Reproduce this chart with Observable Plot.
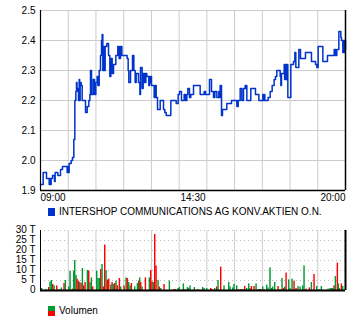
<!DOCTYPE html>
<html>
<head>
<meta charset="utf-8">
<script src="https://cdn.jsdelivr.net/npm/d3@7"></script>
<script src="https://cdn.jsdelivr.net/npm/@observablehq/plot@0.6"></script>
<style>
  html, body { margin: 0; padding: 0; background: #fff; }
  body { width: 360px; height: 330px; position: relative; overflow: hidden; font-family: "Liberation Sans", Arial, sans-serif; }
  #price, #volume { position: absolute; left: 0; }
  #price { top: 0; }
  #volume { top: 222px; }
  .legend { position: absolute; left: 48px; font-size: 10px; line-height: 12px; color: #000; display: flex; align-items: center; white-space: nowrap; }
  .legend .sw { width: 7px; height: 8px; margin-right: 4px; }
</style>
</head>
<body>
<div id="price"></div>
<div class="legend" style="top:206px"><div class="sw" style="background:#0033cc"></div><span>INTERSHOP COMMUNICATIONS AG KONV.AKTIEN O.N.</span></div>
<div id="volume"></div>
<div class="legend" style="top:305px"><div class="sw" style="height:10px;background:linear-gradient(#009933 50%, #ff0000 50%)"></div><span>Volumen</span></div>
<script>
// ---- data ----
// minutes after 09:00
const priceTime = [0,5.8,13,18.8,20,21.6,23,26,30.3,31.7,37.5,43.3,47.6,57.7,58.4,59.1,62,66.4,69.2,72.1,74.3,76.5,77.9,79,80.8,82.2,83.7,84.7,85.8,88,90.2,97.4,101,104.6,106.8,108.2,110.4,114,116.9,119.7,122.6,124.1,127,129.8,132,133.4,134.9,136.3,138.5,139.9,143.5,147.2,150,152.2,155.1,158,163,167.3,170.2,173.1,176,187.5,189.7,191.1,194.8,199.1,202,204.8,207,212,215,216.4,220,222.2,223.5,225,226.5,228,230.1,234.4,236,237.3,238.5,240.2,246,248.9,250.3,253.2,259,266.2,269.1,272,282,293.6,297.9,300.8,305.1,310.9,313.8,316.7,318.8,322.4,325.3,331.1,345.5,354.2,357.1,365.7,370,374.4,377.3,381.6,385.9,387,388.8,391.7,393.8,403.2,413.3,424.9,427.8,432.1,435.7,439.3,442.9,444.5,445.8,446.5,455.1,465.2,472.5,481.1,482.5,484,485.4,492.6,497,501.3,505.6,508.5,511.4,518.6,520.1,521.5,527.3,528.2,529,530.2,533,535.2,541.7,547.5,550.4,552.5,559,562.6,573.4,586.4,595.1,598,600.8,611,621,635.5,638.4,641.2,645.6,649.9,651.3,654.2,655.5,657.1,658,660];
const priceValue = [1.92,1.96,1.94,1.92,1.94,1.92,1.94,1.95,1.93,1.96,1.95,1.97,1.98,1.96,1.98,1.96,1.99,2.00,2.01,2.07,2.20,2.23,2.26,2.24,2.23,2.20,2.27,2.20,2.26,2.25,2.20,2.16,2.18,2.20,2.22,2.30,2.22,2.27,2.22,2.26,2.28,2.25,2.30,2.35,2.40,2.42,2.30,2.38,2.30,2.38,2.39,2.35,2.28,2.34,2.29,2.32,2.35,2.38,2.34,2.38,2.35,2.34,2.30,2.26,2.30,2.35,2.30,2.26,2.29,2.26,2.22,2.31,2.24,2.29,2.26,2.29,2.26,2.29,2.28,2.25,2.28,2.26,2.28,2.25,2.21,2.25,2.21,2.17,2.20,2.17,2.16,2.15,2.20,2.19,2.22,2.23,2.20,2.22,2.20,2.22,2.24,2.21,2.22,2.25,2.22,2.23,2.22,2.27,2.23,2.21,2.23,2.21,2.23,2.21,2.25,2.15,2.17,2.19,2.20,2.18,2.20,2.24,2.20,2.24,2.25,2.24,2.25,2.20,2.24,2.22,2.20,2.22,2.20,2.22,2.20,2.21,2.23,2.25,2.27,2.28,2.30,2.28,2.25,2.29,2.32,2.27,2.32,2.27,2.32,2.21,2.32,2.33,2.36,2.31,2.37,2.34,2.36,2.33,2.32,2.31,2.38,2.33,2.35,2.37,2.35,2.37,2.43,2.41,2.40,2.36,2.40,2.36,2.40,2.37,2.37];

const volTime = [2.2,10.8,17.3,20.2,23.1,26,28.9,34.6,39.7,44.7,50.5,53.4,60.6,63.5,68.5,71.4,73.6,76.5,78.6,81.5,84.4,87.3,90.2,93,95.9,101,103.9,106.8,109.6,112.5,121.2,124.1,127,129.8,132.7,135.6,138.5,141.4,144.3,147.2,151.5,154.4,157.2,160.1,163,165.9,170.2,173.1,180.3,184.7,187.5,190.4,193.3,196.2,203.4,209.2,212.1,214.2,216.4,219.3,226.5,235.1,238,240.9,243.8,246.7,249.6,253.9,256.8,259.7,266.9,278.4,288.5,291.4,297.2,300.1,307.3,308.7,313,317.4,320.3,323.1,332.5,340.4,350.5,353.4,359.2,367.8,370.7,376.5,380.8,383.7,389.5,396.7,406.8,409.7,415.5,418.3,424.1,428.4,432.8,437.1,441.4,445.8,450.1,453,455.9,461.6,466,470.3,473.2,476.1,480.4,483.3,489,491.9,496.2,499.1,502,506.3,513.6,517.9,522.2,525.1,528,530.9,536.6,539.5,543.9,548.2,552.5,556.8,561.2,566.9,569.8,574.1,581.3,585.7,591.5,597.2,603,607.3,621.8,626.1,629,631.9,634.7,637.6,641.9,644.1,646.3,650.6,653.5];
const volValue = [1,0.5,1.5,4.3,5,3,2.3,2.3,0.5,1.3,3.5,5,1.8,9.7,0.7,9.7,15,7.5,5.7,4.7,4,3.5,11,2.3,4,10,9.7,4,6.3,1.8,9.7,6,6,10.5,13,1.8,22.7,10,5.2,5.7,2.7,4,3,3.5,4.7,2.3,6,1.8,2.3,6.3,6,4,2.3,3.5,1.8,3.5,4.7,6.3,4,1.8,6.3,6.3,10,4.3,4,28,12.3,5,1.7,1,3,4.7,0.5,0.5,1,1.5,0.5,3.3,0.5,1.5,1,2.3,1.5,0.5,1.5,1,1,1,0.5,1,1.8,5,11.7,2.3,4,1.8,1.3,3,2.3,0.5,0.5,0.5,2,1,3.3,1,2,2,3.3,0.5,0.5,0.5,1.8,0.5,2.7,1.3,11.3,1,1.7,4,2,0.5,6,1,1.7,8.7,5.3,1,5.7,4.7,1,2,1.7,2.3,12.3,0.7,1.3,4,8,2,0.5,2,0.7,1,1,1,2.3,7,13.7,3.3,1,3.3,2];
const volDir = ["g","g","r","g","g","r","g","r","g","g","r","g","g","g","r","g","g","g","r","r","g","r","g","r","r","g","r","g","g","r","g","g","g","r","g","r","r","g","r","r","g","r","g","r","g","r","r","g","r","g","r","g","g","r","g","g","r","g","r","g","r","g","r","r","g","r","r","g","r","g","r","g","r","r","g","g","r","g","r","g","g","g","g","r","g","g","g","r","r","g","r","g","r","g","g","g","g","g","g","r","r","g","r","g","g","g","r","r","g","g","r","g","g","r","g","g","g","g","g","g","r","g","g","r","g","r","g","g","g","r","r","g","g","g","g","r","r","g","r","g","g","g","g","g","g","g","r","g","r","g","g","r","g"];

const xTickMinutes = [0, 330, 660];
const xTickLabels = ["09:00", "14:30", "20:00"];
const priceTicks = [1.9, 2.0, 2.1, 2.2, 2.3, 2.4, 2.5];
const volTicks = [0, 5, 10, 15, 20, 25, 30];
const hourLines = [60, 120, 180, 240, 300, 360, 420, 480, 540, 600];

// ---- price chart ----
const BLUE = "#0033cc", GREEN = "#009933", RED = "#ff0000", GRID = "#cccccc";
const FS = 10;
const pIdx = d3.range(priceTime.length);
const xLbl = (k, anchor) => Plot.text([k], {
  x: i => xTickMinutes[i], y: 1.9, text: i => xTickLabels[i],
  textAnchor: anchor, dy: 7, lineAnchor: "middle", fontSize: FS, fill: "#000"
});

const price = Plot.plot({
  width: 360, height: 204,
  marginLeft: 40, marginRight: 15, marginTop: 10, marginBottom: 14,
  style: { fontFamily: "'Liberation Sans', Arial, sans-serif", fontSize: FS + "px", background: "transparent", overflow: "visible" },
  x: { domain: [0, 660], axis: null },
  y: { domain: [1.9, 2.5], axis: null },
  marks: [
    Plot.ruleY(priceTicks, { stroke: GRID, strokeWidth: 1 }),
    Plot.ruleX(hourLines, { stroke: GRID, strokeWidth: 1 }),
    Plot.line(pIdx, { x: i => priceTime[i], y: i => priceValue[i], curve: "step-after", stroke: BLUE, strokeWidth: 1.5 }),
    Plot.axisY(priceTicks, { tickSize: 0, tickPadding: 5, tickFormat: d => d.toFixed(1), fontSize: FS, fill: "#000" }),
    Plot.ruleX([0], { stroke: "#000", strokeWidth: 1.2 }),
    Plot.ruleX([660], { stroke: "#000", strokeWidth: 1.5 }),
    Plot.ruleY([1.9], { stroke: "#000", strokeWidth: 1.5 }),
    xLbl(0, "start"), xLbl(1, "middle"), xLbl(2, "end")
  ]
});
document.getElementById("price").appendChild(price);

// ---- volume chart ----
const vIdx = d3.range(volTime.length);
const volume = Plot.plot({
  width: 360, height: 76,
  marginLeft: 40, marginRight: 15, marginTop: 8, marginBottom: 8,
  style: { fontFamily: "'Liberation Sans', Arial, sans-serif", fontSize: FS + "px", background: "transparent", overflow: "visible" },
  x: { domain: [0, 660], axis: null },
  y: { domain: [0, 30], axis: null },
  marks: [
    Plot.ruleY(volTicks.slice(1), { stroke: "#bbbbbb", strokeWidth: 1, strokeDasharray: "1,3" }),
    Plot.ruleX(hourLines, { stroke: GRID, strokeWidth: 1 }),
    Plot.rectY(vIdx, { x1: i => volTime[i], x2: i => volTime[i] + 3.1, y1: 0, y2: i => volValue[i], fill: i => volDir[i] === "g" ? GREEN : RED }),
    Plot.axisY(volTicks, { tickSize: 0, tickPadding: 5, tickFormat: d => d === 0 ? "0" : d + " T", fontSize: FS, fill: "#000", lineHeight: 0.9 }),
    Plot.ruleX([0], { stroke: "#000", strokeWidth: 1 }),
    Plot.ruleX([660], { stroke: "#000", strokeWidth: 2 }),
    Plot.ruleY([0], { stroke: "#000", strokeWidth: 2 })
  ]
});
document.getElementById("volume").appendChild(volume);
</script>
</body>
</html>
